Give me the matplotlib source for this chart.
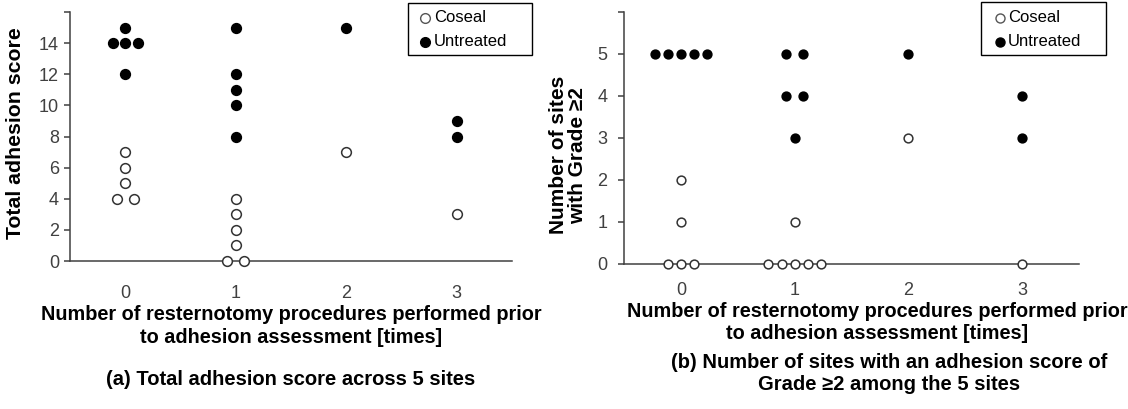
import matplotlib
matplotlib.use("Agg")
import matplotlib.pyplot as plt
from matplotlib.lines import Line2D
from matplotlib.patches import Rectangle
from collections import defaultdict

plt.rcParams['font.family'] = ['Liberation Sans', 'DejaVu Sans']

# number of prior resternotomies for each patient
coseal_x = [0, 0, 0, 0, 0, 1, 1, 1, 1, 1, 1, 2, 3]
untreated_x = [0, 0, 0, 0, 0, 1, 1, 1, 1, 1, 2, 3, 3]

# (a) total adhesion score across 5 sites
total_coseal = [7, 6, 5, 4, 4, 4, 3, 2, 1, 0, 0, 7, 3]
total_untreated = [15, 14, 14, 14, 12, 15, 12, 11, 10, 8, 15, 9, 8]

# (b) number of sites with grade >= 2
sites_coseal = [2, 1, 0, 0, 0, 1, 0, 0, 0, 0, 0, 3, 0]
sites_untreated = [5, 5, 5, 5, 5, 5, 5, 4, 4, 3, 5, 4, 3]

categories = [0, 1, 2, 3]
ticks_a = [0, 2, 4, 6, 8, 10, 12, 14, 16]
ticks_b = [0, 1, 2, 3, 4, 5, 6]

legend_labels = ['Coseal', 'Untreated']
xlabel_lines = ["Number of resternotomy procedures performed prior",
                "to adhesion assessment [times]"]
caption_a = ["(a) Total adhesion score across 5 sites"]
caption_b = ["(b) Number of sites with an adhesion score of",
             "Grade \u22652 among the 5 sites"]

W, H = 1128, 409
TICK_GREY = '#404040'


def spread(xs, ys):
    """Dodge points sharing the same (x, y) sideways."""
    groups = defaultdict(list)
    for i, (x, y) in enumerate(zip(xs, ys)):
        groups[(x, y)].append(i)
    out = list(map(float, xs))
    for idx in groups.values():
        n = len(idx)
        step = 0.15 if n == 2 else 0.115
        for k, i in enumerate(idx):
            out[i] = xs[i] + (k - (n - 1) / 2) * step
    return out


def draw_panel(ax, yc, yu, ticks, ms, xpad, ypad):
    ax.plot(spread(coseal_x, yc), yc, 'o', ms=ms, mfc='white', mec='#333333',
            mew=1.1, ls='none', clip_on=False, zorder=3)
    ax.plot(spread(untreated_x, yu), yu, 'o', ms=ms, mfc='black', mec='black',
            mew=1.1, ls='none', clip_on=False, zorder=3)
    ax.set_xlim(-0.5, 3.5)
    ax.set_ylim(ticks[0], ticks[-1])
    ax.set_xticks(categories)
    ax.set_xticklabels([str(c) for c in categories])
    ax.set_yticks(ticks)
    ax.set_yticklabels([str(t) for t in ticks[:-1]] + [''])
    for side in ('top', 'right'):
        ax.spines[side].set_visible(False)
    for side in ('left', 'bottom'):
        ax.spines[side].set_color(TICK_GREY)
        ax.spines[side].set_linewidth(1.1)
    ax.tick_params(axis='x', length=0, pad=xpad, labelsize=13, labelcolor=TICK_GREY)
    ax.tick_params(axis='y', length=4, width=1.1, color=TICK_GREY, pad=ypad,
                   labelsize=13, labelcolor=TICK_GREY)


def put_lines(lines, cx, baselines, size, weight='bold'):
    for txt, b in zip(lines, baselines):
        fig.text(cx / W, 1 - b / H, txt, ha='center', va='baseline',
                 fontsize=size, fontweight=weight)


def add_legend(x0, y0, x1, y1, mx, tx, rows, ms):
    """Boxed key drawn in pixel positions of the figure."""
    fig.add_artist(Rectangle((x0 / W, 1 - y1 / H), (x1 - x0) / W, (y1 - y0) / H,
                             transform=fig.transFigure, fill=True, fc='white',
                             ec='black', lw=1.0, zorder=5))
    styles = [dict(mfc='white', mec='#555555'), dict(mfc='black', mec='black')]
    for lab, st, ry in zip(legend_labels, styles, rows):
        fig.add_artist(Line2D([mx / W], [1 - ry / H], marker='o', ls='none', ms=ms,
                              mew=1.0, transform=fig.transFigure, zorder=6, **st))
        fig.text(tx / W, 1 - ry / H, lab, ha='left', va='center', fontsize=12,
                 zorder=6)


fig = plt.figure(figsize=(W / 100, H / 100), dpi=100)

ax_a = fig.add_axes([70 / W, 1 - 261 / H, 442 / W, 249 / H])
draw_panel(ax_a, total_coseal, total_untreated, ticks_a, 7, 17, 4)

ax_b = fig.add_axes([624 / W, 1 - 264 / H, 455 / W, 252 / H])
draw_panel(ax_b, sites_coseal, sites_untreated, ticks_b, 6.3, 13, 8)

# axis titles
fig.text(16 / W, 1 - 133 / H, "Total adhesion score", rotation=90,
         ha='center', va='center', fontsize=15.3, fontweight='bold')
fig.text(568 / W, 1 - 155 / H, "Number of sites\nwith Grade \u22652", rotation=90,
         ha='center', va='center', fontsize=15, fontweight='bold',
         multialignment='center', linespacing=0.95)

put_lines(xlabel_lines, 291, [320, 343], 14.3)
put_lines(xlabel_lines, 877, [317, 339], 14.3)
put_lines(caption_a, 291, [385], 14.5)
put_lines(caption_b, 889, [368, 390], 14.5)

add_legend(408, 3, 532, 55, 425, 434, [18, 42], 7)
add_legend(981, 2, 1106, 55, 1000, 1008, [18, 42], 6.5)

fig.savefig('out.png', dpi=100)
